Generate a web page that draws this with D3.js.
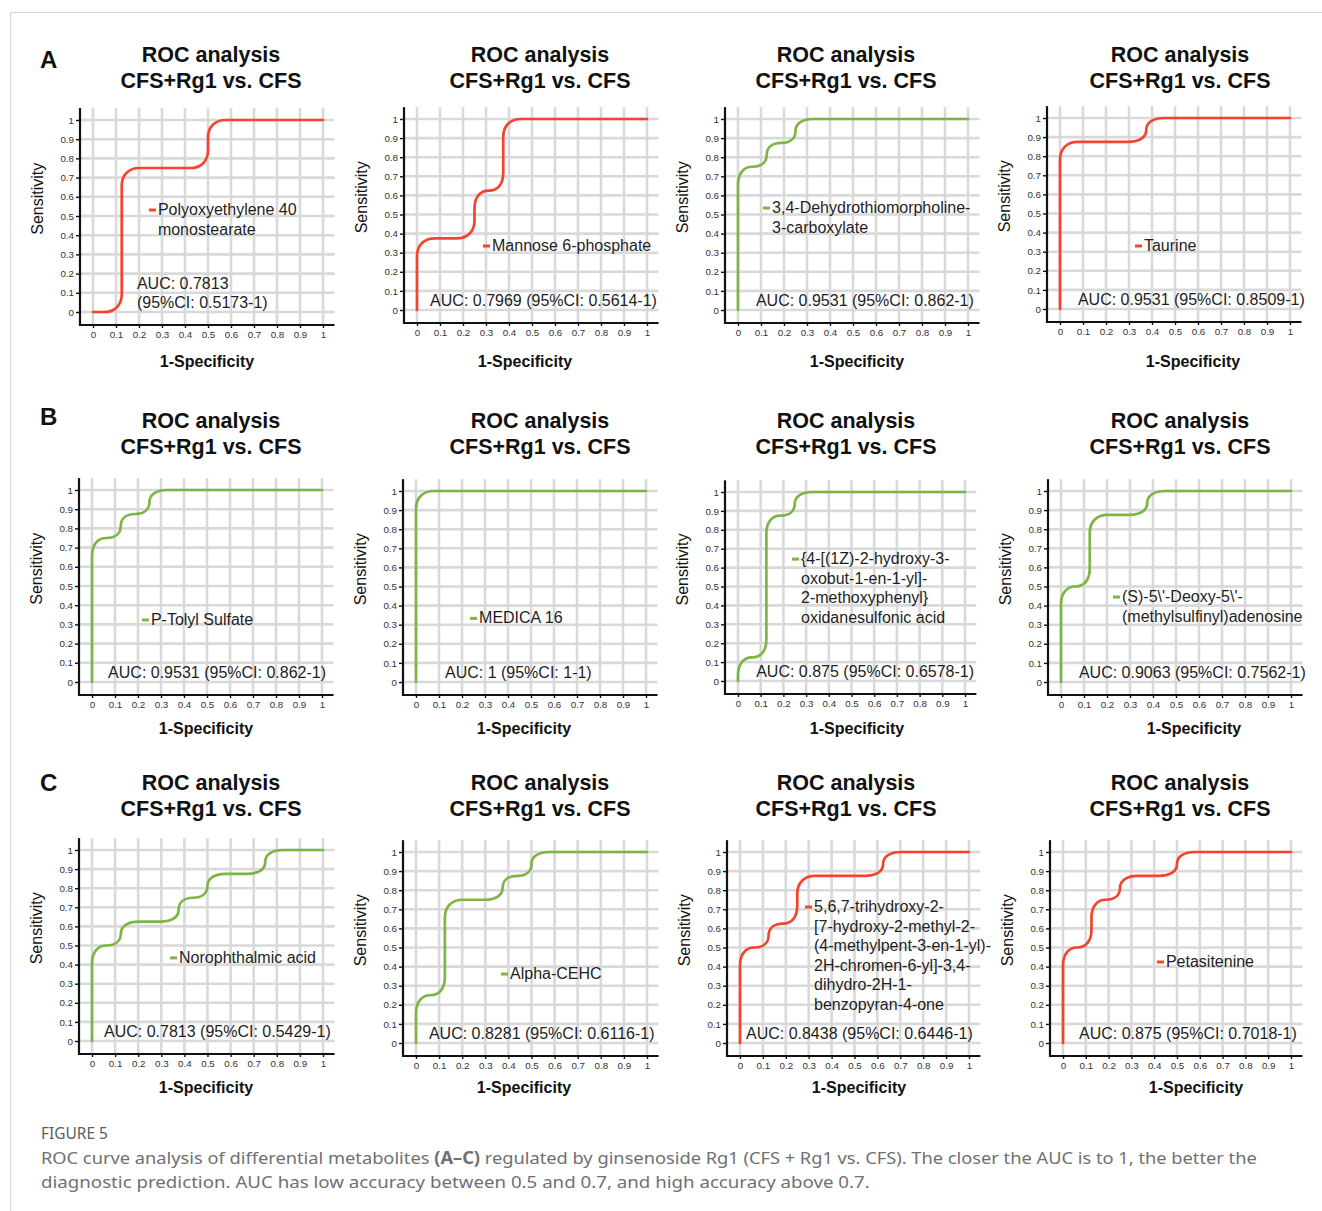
<!DOCTYPE html>
<html><head><meta charset="utf-8">
<script src="https://cdn.jsdelivr.net/npm/d3@7"></script>
<style>body{margin:0;background:#fff}svg{display:block}</style>
</head><body>
<svg id="c" width="1322" height="1211"></svg>
<script>
// ---------------- DATA ----------------
const panelLetters = ["A", "B", "C"];
const titleLines = ["ROC analysis", "CFS+Rg1 vs. CFS"];
const xAxisTitle = "1-Specificity";
const yAxisTitle = "Sensitivity";
const tickValues = [0, 0.1, 0.2, 0.3, 0.4, 0.5, 0.6, 0.7, 0.8, 0.9, 1];
const tickLabels = ["0", "0.1", "0.2", "0.3", "0.4", "0.5", "0.6", "0.7", "0.8", "0.9", "1"];

const metaboliteNames = [
  ["Polyoxyethylene 40", "monostearate"],
  ["Mannose 6-phosphate"],
  ["3,4-Dehydrothiomorpholine-", "3-carboxylate"],
  ["Taurine"],
  ["P-Tolyl Sulfate"],
  ["MEDICA 16"],
  ["{4-[(1Z)-2-hydroxy-3-", "oxobut-1-en-1-yl]-", "2-methoxyphenyl}", "oxidanesulfonic acid"],
  ["(S)-5\\'-Deoxy-5\\'-", "(methylsulfinyl)adenosine"],
  ["Norophthalmic acid"],
  ["Alpha-CEHC"],
  ["5,6,7-trihydroxy-2-", "[7-hydroxy-2-methyl-2-", "(4-methylpent-3-en-1-yl)-", "2H-chromen-6-yl]-3,4-", "dihydro-2H-1-", "benzopyran-4-one"],
  ["Petasitenine"]
];
const aucValues = ["0.7813", "0.7969", "0.9531", "0.9531", "0.9531", "1", "0.875", "0.9063", "0.7813", "0.8281", "0.8438", "0.875"];
const ciValues = ["0.5173-1", "0.5614-1", "0.862-1", "0.8509-1", "0.862-1", "1-1", "0.6578-1", "0.7562-1", "0.5429-1", "0.6116-1", "0.6446-1", "0.7018-1"];
const seriesGroup = ["red", "red", "green", "red", "green", "green", "green", "green", "green", "green", "red", "red"];

// ROC staircase vertices (1-specificity, sensitivity)
const fprSteps = [
  [0, 0.125, 0.125, 0.5, 0.5, 1],
  [0, 0, 0.25, 0.25, 0.375, 0.375, 1],
  [0, 0, 0.125, 0.125, 0.25, 0.25, 1],
  [0, 0, 0.375, 0.375, 1],
  [0, 0, 0.125, 0.125, 0.25, 0.25, 1],
  [0, 0, 1],
  [0, 0, 0.125, 0.125, 0.25, 0.25, 1],
  [0, 0, 0.125, 0.125, 0.375, 0.375, 1],
  [0, 0, 0.125, 0.125, 0.375, 0.375, 0.5, 0.5, 0.75, 0.75, 1],
  [0, 0, 0.125, 0.125, 0.375, 0.375, 0.5, 0.5, 1],
  [0, 0, 0.125, 0.125, 0.25, 0.25, 0.625, 0.625, 1],
  [0, 0, 0.125, 0.125, 0.25, 0.25, 0.5, 0.5, 1]
];
const tprSteps = [
  [0, 0, 0.75, 0.75, 1, 1],
  [0, 0.375, 0.375, 0.625, 0.625, 1, 1],
  [0, 0.75, 0.75, 0.875, 0.875, 1, 1],
  [0, 0.875, 0.875, 1, 1],
  [0, 0.75, 0.75, 0.875, 0.875, 1, 1],
  [0, 1, 1],
  [0, 0.125, 0.125, 0.875, 0.875, 1, 1],
  [0, 0.5, 0.5, 0.875, 0.875, 1, 1],
  [0, 0.5, 0.5, 0.625, 0.625, 0.75, 0.75, 0.875, 0.875, 1, 1],
  [0, 0.25, 0.25, 0.75, 0.75, 0.875, 0.875, 1, 1],
  [0, 0.5, 0.5, 0.625, 0.625, 0.875, 0.875, 1, 1],
  [0, 0.5, 0.5, 0.75, 0.75, 0.875, 0.875, 1, 1]
];

const captionTitle = "FIGURE 5";
const captionLine1 = [
  ["ROC curve analysis of differential metabolites ", false],
  ["(A\u2013C)", true],
  [" regulated by ginsenoside Rg1 (CFS + Rg1 vs. CFS). The closer the AUC is to 1, the better the", false]
];
const captionLine2 = "diagnostic prediction. AUC has low accuracy between 0.5 and 0.7, and high accuracy above 0.7.";

// ---------------- LAYOUT ----------------
const colors = { red: "#f4442e", green: "#7db545" };
const FONT = "'Liberation Sans', Arial, Helvetica, sans-serif";
const plotX0 = [[93, 417, 738, 1060], [92, 416, 738, 1061], [92, 416, 740, 1063]];
const plotW  = [[230, 230, 230, 230], [230, 230, 227, 230], [231, 231, 229, 228]];
const plotY1 = [[120, 119, 119, 118], [490, 491, 492, 491], [850, 852, 852, 852]];
const plotY0 = [[312, 310, 310, 309], [682, 682, 681, 682], [1041, 1043, 1043, 1043]];
const titleCX = [211, 540, 846, 1180];
const titleBase = [62, 428, 790];
const letterBase = [68, 425, 791];
const xTitleOff = [114, 108, 119, 133];
const xTitleY = [367, 734, 1093];
const legendAt = [[0.243,0.531],[0.287,0.335],[0.109,0.534],[0.326,0.33],[0.217,0.323],[0.235,0.333],[0.238,0.645],[0.226,0.445],[0.338,0.435],[0.368,0.361],[0.284,0.712],[0.412,0.424]];
const aucAtX = [0.191,0.057,0.078,0.078,0.07,0.126,0.08,0.078,0.052,0.056,0.026,0.07];

const svg = d3.select("#c");

// frame
svg.append("line").attr("x1", 10).attr("x2", 1322).attr("y1", 12.5).attr("y2", 12.5).attr("stroke", "#d6d6d6").attr("stroke-width", 1.2);
svg.append("line").attr("x1", 10.5).attr("x2", 10.5).attr("y1", 12).attr("y2", 1211).attr("stroke", "#d6d6d6").attr("stroke-width", 1.2);

function roundedStepPath(pts, r) {
  const q = pts.filter((d, i) => i === 0 || d[0] !== pts[i - 1][0] || d[1] !== pts[i - 1][1]);
  const p = d3.path();
  p.moveTo(q[0][0], q[0][1]);
  for (let i = 1; i < q.length - 1; i++) {
    const a = q[i - 1], b = q[i], c = q[i + 1];
    const l1 = Math.hypot(b[0] - a[0], b[1] - a[1]);
    const l2 = Math.hypot(c[0] - b[0], c[1] - b[1]);
    const av1 = (i - 1 === 0) ? l1 : l1 / 2;
    const av2 = (i + 1 === q.length - 1) ? l2 : l2 / 2;
    const r1 = Math.min(r, av1), r2 = Math.min(r, av2);
    const s = [b[0] - (b[0] - a[0]) / l1 * r1, b[1] - (b[1] - a[1]) / l1 * r1];
    const e = [b[0] + (c[0] - b[0]) / l2 * r2, b[1] + (c[1] - b[1]) / l2 * r2];
    p.lineTo(s[0], s[1]);
    const k = 0.62;
    p.bezierCurveTo(s[0] + (b[0] - s[0]) * k, s[1] + (b[1] - s[1]) * k,
                    e[0] + (b[0] - e[0]) * k, e[1] + (b[1] - e[1]) * k, e[0], e[1]);
  }
  p.lineTo(q[q.length - 1][0], q[q.length - 1][1]);
  return p.toString();
}

for (let row = 0; row < 3; row++) {
  svg.append("text").attr("x", 40).attr("y", letterBase[row])
    .attr("font-family", FONT).attr("font-weight", "bold").attr("font-size", 24).attr("fill", "#111")
    .text(panelLetters[row]);

  for (let col = 0; col < 4; col++) {
    const k = row * 4 + col;
    const x = d3.scaleLinear().domain([0, 1]).range([plotX0[row][col], plotX0[row][col] + plotW[row][col]]);
    const y = d3.scaleLinear().domain([0, 1]).range([plotY0[row][col], plotY1[row][col]]);
    const g = svg.append("g");
    const axX = x(0) - 13, axY = y(0) + 13;
    const topY = y(1.062), rightX = x(1.05);

    // titles
    titleLines.forEach((t, li) => {
      g.append("text").attr("x", titleCX[col]).attr("y", titleBase[row] + li * 26)
        .attr("text-anchor", "middle").attr("font-family", FONT).attr("font-weight", "bold")
        .attr("font-size", 21.5).attr("fill", "#111").text(t);
    });

    // grid
    g.selectAll(".vg").data(tickValues).enter().append("line")
      .attr("x1", d => x(d)).attr("x2", d => x(d)).attr("y1", topY).attr("y2", axY)
      .attr("stroke", "#d9d9d9").attr("stroke-width", 2.6);
    g.selectAll(".hg").data(tickValues).enter().append("line")
      .attr("x1", axX).attr("x2", rightX).attr("y1", d => y(d)).attr("y2", d => y(d))
      .attr("stroke", "#d9d9d9").attr("stroke-width", 2.6);

    // axes
    const ya = g.append("g").attr("transform", `translate(${axX},0)`)
      .call(d3.axisLeft(y).tickValues(tickValues).tickFormat((d, i) => tickLabels[i]).tickSize(4).tickPadding(2));
    const xa = g.append("g").attr("transform", `translate(0,${axY})`)
      .call(d3.axisBottom(x).tickValues(tickValues).tickFormat((d, i) => tickLabels[i]).tickSize(3).tickPadding(3));
    [ya, xa].forEach(a => {
      a.select(".domain").remove();
      a.selectAll(".tick line").attr("stroke", "#111").attr("stroke-width", 1.4);
      a.selectAll(".tick text").attr("font-family", FONT).attr("font-size", 9.8).attr("fill", "#333");
    });
    g.append("line").attr("x1", axX).attr("x2", axX).attr("y1", topY).attr("y2", axY + 1)
      .attr("stroke", "#111").attr("stroke-width", 2.2);
    g.append("line").attr("x1", axX - 1).attr("x2", rightX).attr("y1", axY).attr("y2", axY)
      .attr("stroke", "#111").attr("stroke-width", 2.2);

    // axis titles
    g.append("text").attr("x", x(0) + xTitleOff[col]).attr("y", xTitleY[row])
      .attr("text-anchor", "middle").attr("font-family", FONT).attr("font-weight", "bold")
      .attr("font-size", 16).attr("fill", "#111").text(xAxisTitle);
    g.append("text").attr("transform", `translate(${x(0) - 50},${y(0.59)}) rotate(-90)`)
      .attr("text-anchor", "middle").attr("font-family", FONT)
      .attr("font-size", 16).attr("fill", "#111").text(yAxisTitle);

    // curve
    const pts = fprSteps[k].map((f, i) => [x(f), y(tprSteps[k][i])]);
    g.append("path").attr("d", roundedStepPath(pts, 18)).attr("fill", "none")
      .attr("stroke", colors[seriesGroup[k]]).attr("stroke-width", 2.7)
      .attr("stroke-linejoin", "round").attr("stroke-linecap", "round");

    // legend
    const lx = x(legendAt[k][0]), ly = y(legendAt[k][1]);
    g.append("rect").attr("x", lx).attr("y", ly - 1.5).attr("width", 7).attr("height", 3)
      .attr("fill", colors[seriesGroup[k]]);
    metaboliteNames[k].forEach((t, li) => {
      g.append("text").attr("x", lx + 9).attr("y", ly + 5 + li * 19.5)
        .attr("font-family", FONT).attr("font-size", 16).attr("fill", "#1e1e1e").text(t);
    });

    // AUC
    const aucLines = (k === 0)
      ? ["AUC: " + aucValues[k], "(95%CI: " + ciValues[k] + ")"]
      : ["AUC: " + aucValues[k] + " (95%CI: " + ciValues[k] + ")"];
    aucLines.forEach((t, li) => {
      g.append("text").attr("x", x(aucAtX[k]))
        .attr("y", y(0) - 4.5 - (aucLines.length - 1 - li) * 19)
        .attr("font-family", FONT).attr("font-size", 16).attr("fill", "#1e1e1e").text(t);
    });
  }
}

// caption
const CFONT = "'Noto Sans', 'Open Sans', sans-serif";
function fitText(sel, x0, target) {
  const w = sel.node().getBBox().width;
  const yv = +sel.attr("data-y");
  sel.attr("transform", `translate(${x0},${yv}) scale(${target / w},1)`);
}
const ct = svg.append("text").attr("x", 0).attr("y", 0).attr("data-y", 1139)
  .attr("font-family", CFONT).attr("font-size", 17).attr("fill", "#5c5c5c").text(captionTitle);
fitText(ct, 41, 67);
const c1 = svg.append("text").attr("x", 0).attr("y", 0).attr("data-y", 1164)
  .attr("font-family", CFONT).attr("font-size", 17).attr("fill", "#707070");
captionLine1.forEach(([t, b]) => c1.append("tspan").attr("font-weight", b ? "bold" : null).text(t));
fitText(c1, 41, 1217);
const c2 = svg.append("text").attr("x", 0).attr("y", 0).attr("data-y", 1188)
  .attr("font-family", CFONT).attr("font-size", 17).attr("fill", "#707070").text(captionLine2);
fitText(c2, 41, 829);
</script>
</body></html>
